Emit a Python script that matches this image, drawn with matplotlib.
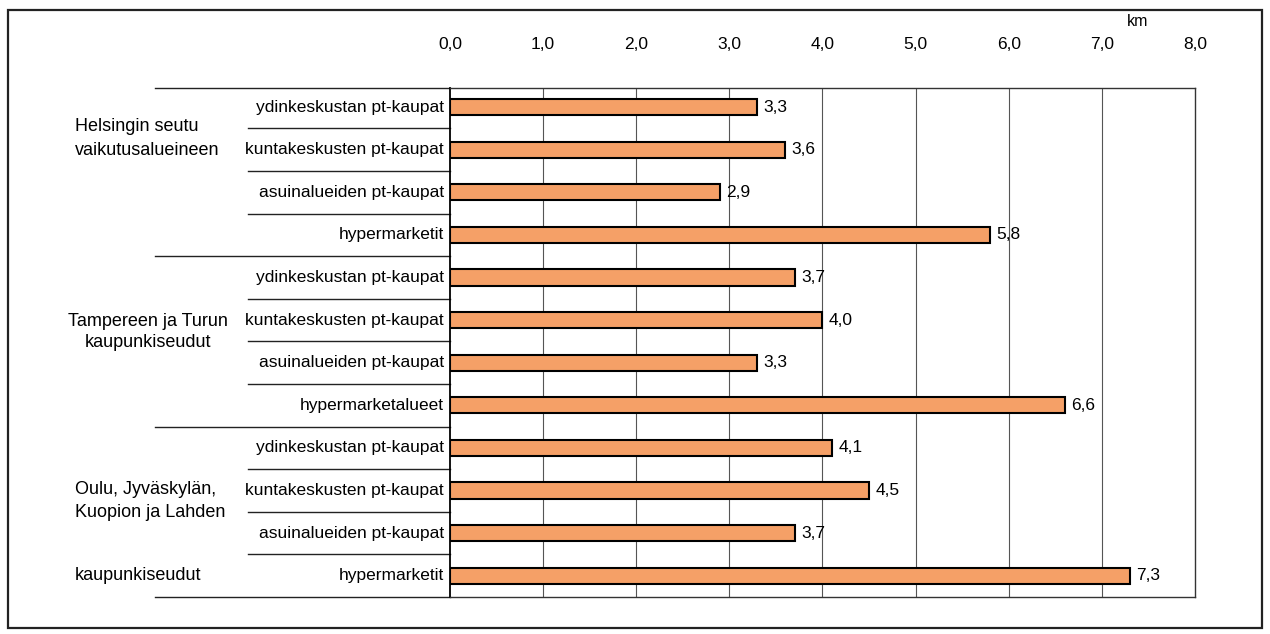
import numpy as np
import matplotlib.pyplot as plt
import matplotlib.transforms as mtransforms
from matplotlib.patches import Rectangle

plt.rcParams['font.family'] = ['Liberation Sans Narrow', 'Liberation Sans', 'DejaVu Sans']

# data
categories = ['ydinkeskustan pt-kaupat', 'kuntakeskusten pt-kaupat', 'asuinalueiden pt-kaupat', 'hypermarketit',
              'ydinkeskustan pt-kaupat', 'kuntakeskusten pt-kaupat', 'asuinalueiden pt-kaupat', 'hypermarketalueet',
              'ydinkeskustan pt-kaupat', 'kuntakeskusten pt-kaupat', 'asuinalueiden pt-kaupat', 'hypermarketit']
values = [3.3, 3.6, 2.9, 5.8, 3.7, 4.0, 3.3, 6.6, 4.1, 4.5, 3.7, 7.3]
xticks = [0, 1, 2, 3, 4, 5, 6, 7, 8]
xticklabels = ['0,0', '1,0', '2,0', '3,0', '4,0', '5,0', '6,0', '7,0', '8,0']
unit = 'km'

fig = plt.figure(figsize=(12.7, 6.34), dpi=100)
ax = fig.add_axes([0.3543, 0.0584, 0.5866, 0.8028])

y = np.arange(len(values))
bar_col = '#F5A067'
ax.barh(y, values, height=0.38, color=bar_col, edgecolor='black', linewidth=1.5, zorder=3)

# arvot palkkien perään
for yi, v in zip(y, values):
    ax.text(v + 0.07, yi, f'{v:.1f}'.replace('.', ','), va='center', ha='left', fontsize=12.5, zorder=4)

ax.set_xlim(0, 8)
ax.set_ylim(11.5, -0.45)

# pystyviivat
for xv in xticks[1:-1]:
    ax.axvline(xv, color='#555555', lw=0.8, zorder=1)

ax.xaxis.tick_top()
ax.set_xticks(xticks)
ax.set_xticklabels(xticklabels, fontsize=12.5)
ax.tick_params(axis='x', length=0, pad=26)
ax.set_yticks([])
for s in ax.spines.values():
    s.set_linewidth(1.0)
    s.set_color('#333333')
ax.spines['left'].set_linewidth(1.3)
ax.spines['left'].set_color('black')

fig.text(1138 / 1270, 1 - 22 / 634, unit, fontsize=11.5, ha='center', va='center')

# luokkien nimet ja erotinviivat
tr = mtransforms.blended_transform_factory(ax.transAxes, ax.transData)
for yi, c in zip(y, categories):
    ax.text(-0.008, yi, c, transform=tr, ha='right', va='center', fontsize=12.5, clip_on=False)

seps = [-0.45, 0.5, 1.5, 2.5, 3.5, 4.5, 5.5, 6.5, 7.5, 8.5, 9.5, 10.5, 11.5]
for s in seps:
    long_line = s in (-0.45, 3.5, 7.5, 11.5)
    x0 = -0.396 if long_line else -0.271
    ax.plot([x0, 0], [s, s], transform=tr, color='#222222', lw=1.0, clip_on=False)

# ryhmien nimet
ax.text(-0.503, 0.73, 'Helsingin seutu\nvaikutusalueineen', transform=tr, ha='left', va='center',
        fontsize=13, linespacing=1.5)
ax.text(-0.405, 5.28, 'Tampereen ja Turun\nkaupunkiseudut', transform=tr, ha='center', va='center',
        fontsize=13, linespacing=1.3, multialignment='center')
ax.text(-0.503, 9.25, 'Oulu, Jyväskylän,\nKuopion ja Lahden', transform=tr, ha='left', va='center',
        fontsize=13, linespacing=1.5)
ax.text(-0.503, 11.0, 'kaupunkiseudut', transform=tr, ha='left', va='center', fontsize=13)

# kehys
fig.patches.append(Rectangle((8 / 1270, 6 / 634), 1254 / 1270, 618 / 634, transform=fig.transFigure,
                             fill=False, edgecolor='#222222', lw=1.6))

fig.savefig('out.png', dpi=100)
